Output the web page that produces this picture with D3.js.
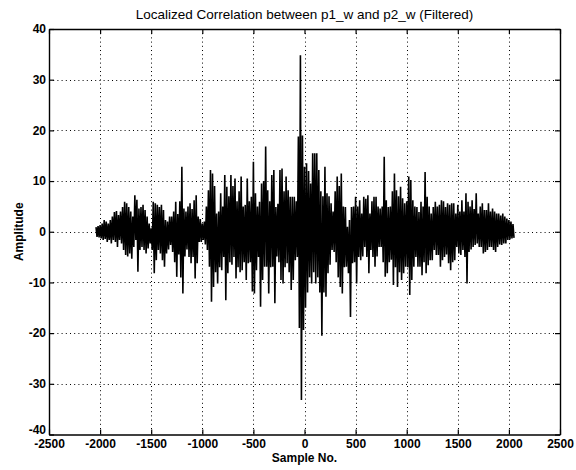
<!DOCTYPE html>
<html>
<head>
<meta charset="utf-8">
<script src="https://cdn.jsdelivr.net/npm/d3@7"></script>
<style>
  html, body { margin: 0; padding: 0; background: #fff; }
  svg text { font-family: "Liberation Sans", Arial, Helvetica, sans-serif; fill: #000; }
</style>
</head>
<body>
<svg id="chart" width="576" height="470"></svg>
<script>
// Localized correlation, summarised as one peak and one trough per 20-sample block
const sampleStart = -2040;
const sampleStep = 20;

const upper = [
  0.9, 1.1, 1.3, 1.6, 2.3, 2, 1.6, 2.3, 3, 3.9,
  4.1, 3.3, 4, 4.9, 5.9, 5.6, 4.9, 4, 3, 7.2,
  6.3, 4.6, 4.9, 5.3, 4.3, 3, 1.6, 0.7, 5.9, 5.6,
  5.3, 4.9, 5.3, 4.3, 2.3, 2, 3, 3, 4, 5.9,
  3.5, 6, 12.8, 4.6, 4, 5, 5.6, 4.5, 6.2, 7.2,
  3, 2.5, 1.6, 2, 5, 8.2, 12.2, 11.5, 9, 3.6,
  4, 7.6, 5, 11.2, 8.9, 7, 11.2, 9, 10.5, 6,
  8, 10.9, 5, 5.3, 10.5, 6, 6.9, 13.8, 7.6, 5,
  5.9, 9.5, 10, 16.8, 8.2, 6, 11.2, 12.2, 4.9, 5.5,
  12.2, 12.5, 8, 10.9, 8.2, 6.9, 6.9, 6.9, 6, 18.8,
  34.8, 19, 12.8, 13.5, 12, 9.5, 15.5, 15.5, 15.5, 12.2,
  8, 7, 12.8, 7.6, 7, 5.6, 4, 8, 10.9, 9,
  11.5, 5, 4.9, 1, 2.3, 4.9, 5, 6.9, 5, 6.2,
  3.6, 6.9, 6.5, 7.2, 3.6, 6, 6.9, 6.9, 5, 4.6,
  5, 14.8, 6.2, 4.9, 5, 8, 11.5, 8.2, 7, 8.9,
  6.6, 5.6, 6, 10.9, 10.2, 6.2, 5, 4.9, 3.9, 5.9,
  5, 11.8, 6.9, 5, 3.6, 4.9, 5.9, 5, 5.3, 6.2,
  6, 4.9, 5.6, 5.3, 5.6, 5.6, 3.6, 5.3, 4, 6.2,
  4, 7.6, 5.9, 5, 6.2, 4.5, 7.6, 3.6, 5, 5.6,
  4.3, 4.3, 5.6, 4, 4.6, 4, 3.6, 3.6, 3.2, 3.6,
  3, 2.6, 2.3, 2, 1.5
];

const lower = [
  -1, -1.1, -1.3, -1.6, -1.4, -2, -1.6, -2.3, -1.6, -2,
  -3, -1.6, -2.3, -3.6, -4.6, -4.9, -4.3, -5.3, -3, -1.6,
  -7.9, -3.6, -3, -3.6, -4.3, -3.3, -2.3, -3.6, -8.2, -5.6,
  -3.6, -4.3, -5.6, -6.9, -4.3, -3.5, -2.6, -4, -6, -8.9,
  -4.5, -9, -12.2, -4.9, -3.5, -5, -6.2, -5, -9.2, -6.2,
  -2, -2, -1.6, -2.5, -3.6, -6.9, -13.8, -10.9, -8, -10.2,
  -7, -7.6, -5, -13.5, -8.2, -6, -6.5, -5, -9.2, -7,
  -8, -7.6, -6, -9.5, -6.2, -6, -11.8, -12.2, -7.6, -5,
  -14.8, -9.5, -6.9, -6.9, -12.2, -7, -6.9, -14.1, -4.9, -6,
  -9.5, -10.2, -7, -6.2, -8, -11.5, -9.5, -5.6, -5, -19,
  -33.2, -19.4, -15, -12, -9, -10.2, -8, -10.2, -9, -12,
  -20.5, -12, -12.8, -8.2, -6.5, -3.6, -4, -6, -9, -10.9,
  -12.2, -7, -6.9, -8.2, -16.8, -6.2, -6, -10.2, -5, -5.6,
  -4.9, -3, -5, -8.2, -3.6, -5, -6.9, -4.9, -3, -3,
  -6, -8.9, -8.2, -6, -5.5, -10.5, -7, -10.9, -8, -9.5,
  -8.2, -6.9, -7, -12.5, -9.5, -6.9, -5, -6.9, -6.9, -8.6,
  -6, -8.2, -6.6, -5.6, -5.6, -3.6, -4.6, -4.6, -6.9, -5.6,
  -5, -4.5, -6.2, -7.6, -6, -5.6, -3, -4.3, -4.6, -3.6,
  -5, -10.2, -4, -3.5, -3, -2.6, -2.3, -3, -3, -4.3,
  -4, -3.6, -3, -3, -3.6, -4, -3, -2.5, -2.6, -2.3,
  -2.3, -1.6, -1.5, -1.3, -1.2
];

const xTicks = [-2500, -2000, -1500, -1000, -500, 0, 500, 1000, 1500, 2000, 2500];
const yTicks = [-40, -30, -20, -10, 0, 10, 20, 30, 40];

const titleText = "Localized Correlation between p1_w and p2_w (Filtered)";
const xLabelText = "Sample No.";
const yLabelText = "Amplitude";

// Each block swings from its peak to its trough, giving the dense trace
const trace = [];
upper.forEach((u, i) => {
  const s = sampleStart + i * sampleStep;
  trace.push([s, u]);
  trace.push([s + sampleStep / 2, lower[i]]);
});

const svg = d3.select("#chart");
const plotLeft = 49, plotRight = 560, plotTop = 29, plotBottom = 434.5;

const x = d3.scaleLinear().domain([-2500, 2500]).range([plotLeft, plotRight]);
const y = d3.scaleLinear().domain([-40, 40]).range([plotBottom, plotTop]);

// dotted grid
const grid = svg.append("g").attr("stroke", "#000").attr("stroke-width", 1)
  .attr("stroke-dasharray", "1,3.2");
grid.selectAll("line.gx").data(xTicks.slice(1, -1)).join("line")
  .attr("x1", d => Math.round(x(d)) + 0.5).attr("x2", d => Math.round(x(d)) + 0.5)
  .attr("y1", plotTop).attr("y2", plotBottom);
grid.selectAll("line.gy").data(yTicks.slice(1, -1)).join("line")
  .attr("y1", d => Math.round(y(d)) + 0.5).attr("y2", d => Math.round(y(d)) + 0.5)
  .attr("x1", plotLeft).attr("x2", plotRight);

// signal trace
const line = d3.line().x(d => x(d[0])).y(d => y(d[1]));
svg.append("path").datum(trace)
  .attr("fill", "none").attr("stroke", "#000").attr("stroke-width", 1.6)
  .attr("stroke-linejoin", "miter").attr("stroke-miterlimit", 2)
  .attr("d", line);

// axes with inward ticks on all four sides
const fontSize = 12;
const plain = d => String(d);
const axisB = d3.axisBottom(x).tickValues(xTicks).tickFormat(plain)
  .tickSizeInner(-5).tickSizeOuter(0).tickPadding(5);
const axisT = d3.axisTop(x).tickValues(xTicks).tickSizeInner(-5).tickSizeOuter(0).tickFormat("");
const axisL = d3.axisLeft(y).tickValues(yTicks).tickFormat(plain)
  .tickSizeInner(-5).tickSizeOuter(0).tickPadding(3);
const axisR = d3.axisRight(y).tickValues(yTicks).tickSizeInner(-5).tickSizeOuter(0).tickFormat("");

function styleAxis(g) {
  g.selectAll("path.domain").attr("stroke", "#000").attr("stroke-width", 1.4);
  g.selectAll(".tick line").attr("stroke", "#000").attr("stroke-width", 1.2);
  g.selectAll("text").attr("font-size", fontSize).attr("font-weight", "bold")
    .attr("font-family", "Liberation Sans, Arial, sans-serif").attr("fill", "#000");
}

svg.append("g").attr("transform", `translate(0,${plotBottom})`).call(axisB).call(styleAxis);
svg.append("g").attr("transform", `translate(0,${plotTop})`).call(axisT).call(styleAxis);
const leftAxis = svg.append("g").attr("transform", `translate(${plotLeft},0)`).call(axisL).call(styleAxis);
svg.append("g").attr("transform", `translate(${plotRight},0)`).call(axisR).call(styleAxis);

// the lowest y label sits just above the first x label
leftAxis.selectAll(".tick text").filter(d => d === -40).attr("dy", "-0.1em");

// titles
svg.append("text").attr("x", (plotLeft + plotRight) / 2).attr("y", 19)
  .attr("text-anchor", "middle").attr("font-size", 13.5)
  .text(titleText);
svg.append("text").attr("x", (plotLeft + plotRight) / 2).attr("y", 462)
  .attr("text-anchor", "middle").attr("font-size", 12).attr("font-weight", "bold")
  .text(xLabelText);
svg.append("text").attr("transform", `translate(23,${(plotTop + plotBottom) / 2}) rotate(-90)`)
  .attr("text-anchor", "middle").attr("font-size", 12).attr("font-weight", "bold")
  .text(yLabelText);
</script>
</body>
</html>
